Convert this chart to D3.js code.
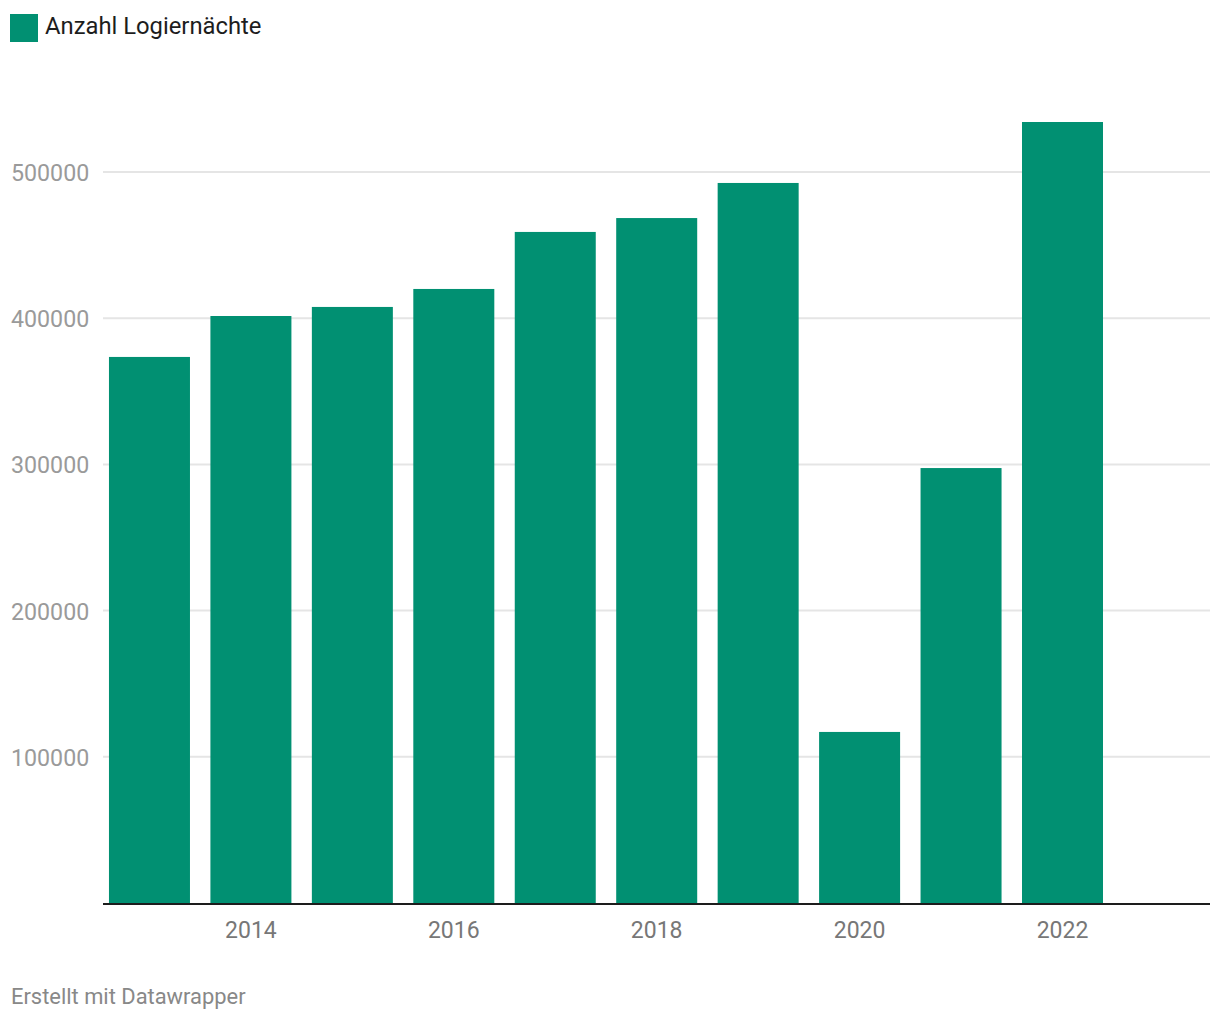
<!DOCTYPE html>
<html><head><meta charset="utf-8">
<script src="https://cdn.jsdelivr.net/npm/d3@7"></script>
<style>body{margin:0;background:#fff;font-family:Roboto,sans-serif;}</style>
</head><body><svg id="c" width="1220" height="1020"></svg>
<script>
const years = [2013,2014,2015,2016,2017,2018,2019,2020,2021,2022];
const nights = [373500,401500,407700,420000,459000,468500,492500,117000,297500,534200];
const yTicks = [100000,200000,300000,400000,500000];
const xTicks = [2014,2016,2018,2020,2022];
const seriesName = "Anzahl Logiernächte";
const color = "#019072";

const svg = d3.select("#c");
const x = d3.scaleLinear().domain([2012.542,2023.454]).range([103,1210]);
const y = d3.scaleLinear().domain([0,500000]).range([903,172]);
const bw = 81;

svg.append("g").selectAll("line").data(yTicks).join("line")
  .attr("x1",103).attr("x2",1210).attr("y1",d=>y(d)).attr("y2",d=>y(d))
  .attr("stroke","#e5e5e5").attr("stroke-width",2);
svg.append("g").selectAll("text").data(yTicks).join("text")
  .attr("x",11).attr("y",d=>y(d)+9).attr("font-size",23.2).attr("fill","#9a9a9a")
  .text(d=>d3.format("d")(d));

svg.append("g").selectAll("rect").data(years).join("rect")
  .attr("x",(d)=>x(d)-bw/2).attr("width",bw)
  .attr("y",(d,i)=>y(nights[i])).attr("height",(d,i)=>y(0)-y(nights[i]))
  .attr("fill",color);

svg.append("line").attr("x1",103).attr("x2",1210).attr("y1",y(0)+1).attr("y2",y(0)+1)
  .attr("stroke","#1d1d1d").attr("stroke-width",2);

svg.append("g").selectAll("text").data(xTicks).join("text")
  .attr("x",d=>x(d)).attr("y",938).attr("text-anchor","middle")
  .attr("font-size",23).attr("fill","#777").text(d=>d);

svg.append("rect").attr("x",10).attr("y",14).attr("width",28).attr("height",28).attr("fill",color);
svg.append("text").attr("x",45).attr("y",34).attr("font-size",23.8).attr("fill","#1d1d1d").text(seriesName);

svg.append("text").attr("x",11).attr("y",1004).attr("font-size",21.9).attr("fill","#888").text("Erstellt mit Datawrapper");
</script></body></html>
